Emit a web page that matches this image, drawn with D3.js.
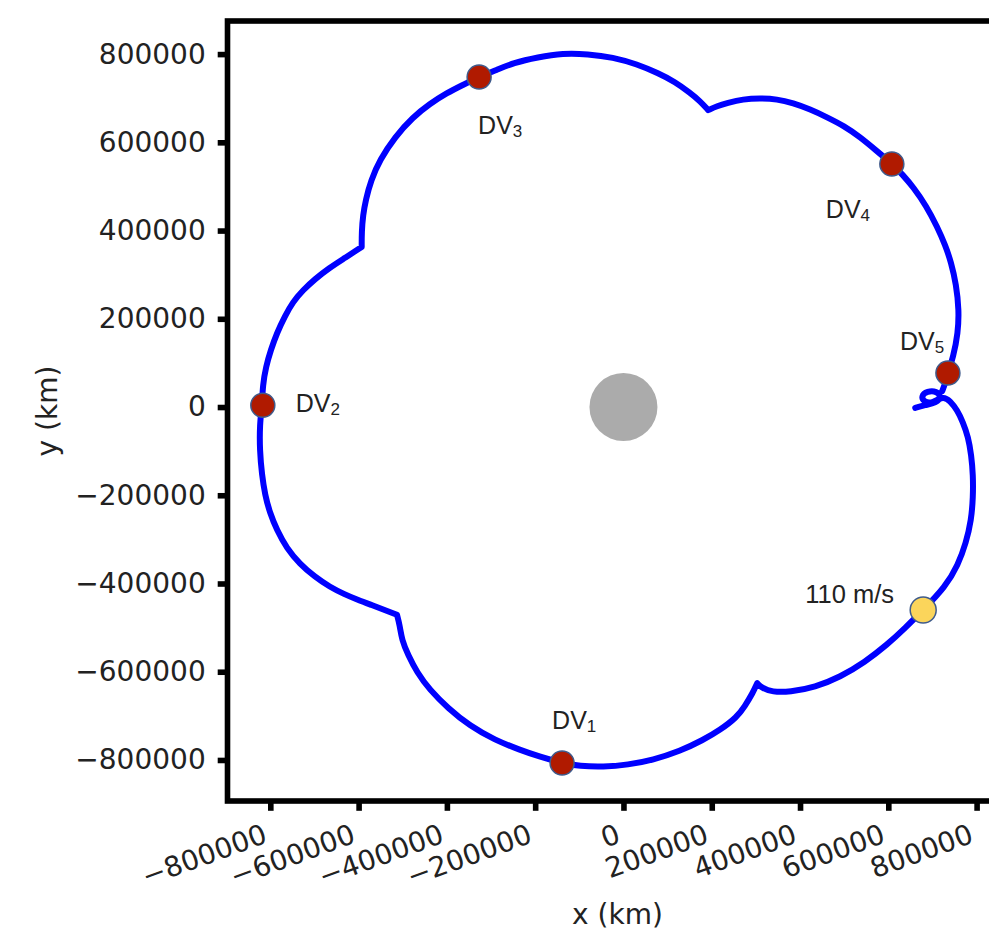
<!DOCTYPE html>
<html>
<head>
<meta charset="utf-8">
<script src="https://cdn.jsdelivr.net/npm/d3@7"></script>
<style>
  html, body { margin: 0; padding: 0; background: #fff; }
  svg { display: block; }
</style>
</head>
<body>
<div id="chart"></div>
<script>
// trajectory in km, [x, y]
const trajectory = [
  [661000, -2000], [683000, 4500], [708000, 9000], [720000, 23000], [710000, 36000],
  [688000, 36000], [674000, 25000], [681000, 11000], [701000, 9000], [724000, 25000],
  [740000, 14000], [756000, -7000], [769000, -34000], [781000, -68000], [788000, -109000],
  [792000, -154000], [792000, -204000], [788000, -256000], [776000, -308000], [758000, -358000],
  [729000, -408000], [679000, -460000], [638000, -501000], [597000, -539000], [547000, -578000],
  [491000, -612000], [434000, -635000], [377000, -646000], [337000, -646000], [314000, -637000],
  [303000, -626000], [293000, -648000], [275000, -678000], [257000, -703000], [219000, -732000],
  [180000, -755000], [128000, -780000], [67000, -800000], [10000, -811000], [-46000, -816000],
  [-99000, -814000], [-139000, -807000], [-189000, -793000], [-235000, -777000], [-291000, -755000],
  [-348000, -723000], [-398000, -682000], [-439000, -641000], [-468000, -601000], [-488000, -562000],
  [-502000, -528000], [-507000, -494000], [-513000, -471000], [-541000, -460000], [-570000, -449000],
  [-602000, -437000], [-633000, -424000], [-665000, -408000], [-699000, -385000], [-733000, -356000],
  [-763000, -320000], [-785000, -279000], [-801000, -240000], [-812000, -199000], [-819000, -154000],
  [-824000, -98000], [-824000, -41000], [-819000, 4000], [-817000, 50000], [-810000, 91000],
  [-799000, 129000], [-785000, 168000], [-767000, 206000], [-749000, 238000], [-726000, 265000],
  [-699000, 290000], [-667000, 315000], [-631000, 338000], [-593000, 363000], [-593000, 397000],
  [-590000, 435000], [-584000, 469000], [-572000, 514000], [-552000, 560000], [-518000, 612000],
  [-477000, 657000], [-439000, 687000], [-400000, 712000], [-364000, 730000], [-328000, 748000],
  [-287000, 764000], [-250000, 780000], [-194000, 793000], [-137000, 802000], [-81000, 800000],
  [-24000, 793000], [31000, 777000], [78000, 757000], [117000, 737000], [151000, 712000],
  [173000, 694000], [192000, 673000], [212000, 682000], [235000, 689000], [271000, 698000],
  [309000, 700000], [348000, 698000], [384000, 689000], [423000, 675000], [461000, 657000],
  [500000, 637000], [536000, 612000], [572000, 582000], [609000, 551000], [633000, 526000],
  [656000, 499000], [686000, 456000], [711000, 408000], [729000, 367000], [742000, 329000],
  [754000, 277000], [760000, 220000], [758000, 168000], [747000, 113000], [735000, 77000],
  [729000, 54000], [722000, 36000]
];
// indices of the kinks (manoeuvre cusps) in the trajectory
const cusps = [30, 52, 78, 101];

// manoeuvres
const dvNames = ['1', '2', '3', '4', '5'];
const dvX = [-139000, -817000, -327000, 608000, 735000];
const dvY = [-807000, 4000, 748000, 551000, 77000];

const burnX = [679000];
const burnY = [-460000];
const burnLabel = ['110 m/s'];

const bodyX = [0];
const bodyY = [0];

const ticks = [-800000, -600000, -400000, -200000, 0, 200000, 400000, 600000, 800000];
const xDomain = [-897000, 870000];
const yDomain = [-893000, 875000];

// layout
const W = 989, H = 933;
const mLeft = 227.5, mTop = 21, size = 780;
const lw = 5.6;

const svg = d3.select('#chart').append('svg')
  .attr('width', W)
  .attr('height', H)
  .style('font-family', "'DejaVu Sans', sans-serif");

const xScale = d3.scaleLinear().domain(xDomain).range([mLeft, mLeft + size]);
const yScale = d3.scaleLinear().domain(yDomain).range([mTop + size, mTop]);

const fmt = d3.format('d');

// y axis
const yAxis = d3.axisLeft(yScale)
  .tickValues(ticks)
  .tickFormat(fmt)
  .tickSize(9.8)
  .tickPadding(12);

const gy = svg.append('g')
  .attr('transform', `translate(${mLeft}, 0)`)
  .call(yAxis);
gy.select('.domain').remove();
gy.selectAll('.tick line').attr('stroke', '#000').attr('stroke-width', lw);
gy.selectAll('.tick text')
  .attr('fill', '#222')
  .attr('font-size', 28)
  .attr('font-family', "'DejaVu Sans', sans-serif");

// x axis
const xAxis = d3.axisBottom(xScale)
  .tickValues(ticks)
  .tickFormat(fmt)
  .tickSize(9.8);

const gx = svg.append('g')
  .attr('transform', `translate(0, ${mTop + size})`)
  .call(xAxis);
gx.select('.domain').remove();
gx.selectAll('.tick line').attr('stroke', '#000').attr('stroke-width', lw);
gx.selectAll('.tick text')
  .attr('fill', '#222')
  .attr('font-size', 28)
  .attr('font-family', "'DejaVu Sans', sans-serif")
  .attr('x', null)
  .attr('y', null)
  .attr('dy', null)
  .attr('text-anchor', 'end')
  .attr('transform', 'translate(-2, 41) rotate(-20)');

// frame
svg.append('rect')
  .attr('x', mLeft)
  .attr('y', mTop)
  .attr('width', size)
  .attr('height', size)
  .attr('fill', 'none')
  .attr('stroke', '#000')
  .attr('stroke-width', lw);

// central body
svg.selectAll('circle.body')
  .data(bodyX)
  .enter()
  .append('circle')
  .attr('class', 'body')
  .attr('cx', d => xScale(d))
  .attr('cy', (d, i) => yScale(bodyY[i]))
  .attr('r', 34)
  .attr('fill', '#ababab');

// trajectory: b-spline, with the cusp points repeated so the kinks stay sharp
const pts = [];
trajectory.forEach((p, i) => {
  pts.push(p);
  if (cusps.includes(i)) { pts.push(p); pts.push(p); }
});

const line = d3.line()
  .x(d => xScale(d[0]))
  .y(d => yScale(d[1]))
  .curve(d3.curveBasis);

svg.append('path')
  .datum(pts)
  .attr('d', line)
  .attr('fill', 'none')
  .attr('stroke', '#0000ff')
  .attr('stroke-width', 6)
  .attr('stroke-linejoin', 'round')
  .attr('stroke-linecap', 'round');

// dv markers
svg.selectAll('circle.dv')
  .data(dvX)
  .enter()
  .append('circle')
  .attr('class', 'dv')
  .attr('cx', d => xScale(d))
  .attr('cy', (d, i) => yScale(dvY[i]))
  .attr('r', 12)
  .attr('fill', '#b01a00')
  .attr('stroke', '#3f5b8c')
  .attr('stroke-width', 1.5);

svg.selectAll('circle.burn')
  .data(burnX)
  .enter()
  .append('circle')
  .attr('class', 'burn')
  .attr('cx', d => xScale(d))
  .attr('cy', (d, i) => yScale(burnY[i]))
  .attr('r', 13)
  .attr('fill', '#fbd55b')
  .attr('stroke', '#3f5b8c')
  .attr('stroke-width', 1.5);

// labels (offsets in px from marker)
const dvOffsets = [[-10, -34], [33, 7], [-1, 57], [-66, 54], [-48, -23]];
const labels = svg.selectAll('text.dv')
  .data(dvNames)
  .enter()
  .append('text')
  .attr('class', 'dv')
  .attr('x', (d, i) => xScale(dvX[i]) + dvOffsets[i][0])
  .attr('y', (d, i) => yScale(dvY[i]) + dvOffsets[i][1])
  .attr('font-family', "'Liberation Sans', Arial, sans-serif")
  .attr('font-size', 25)
  .attr('fill', '#222');
labels.append('tspan').text('DV');
labels.append('tspan')
  .attr('font-size', 17)
  .attr('dy', 3)
  .text(d => d);

svg.selectAll('text.burn')
  .data(burnLabel)
  .enter()
  .append('text')
  .attr('class', 'burn')
  .attr('x', (d, i) => xScale(burnX[i]) - 118)
  .attr('y', (d, i) => yScale(burnY[i]) - 7)
  .attr('font-family', "'Liberation Sans', Arial, sans-serif")
  .attr('font-size', 25.5)
  .attr('fill', '#222')
  .text(d => d);

// axis titles
svg.append('text')
  .attr('x', mLeft + size / 2)
  .attr('y', 924)
  .attr('text-anchor', 'middle')
  .attr('font-size', 28)
  .attr('fill', '#222')
  .text('x (km)');

svg.append('text')
  .attr('transform', `translate(57, ${mTop + size / 2}) rotate(-90)`)
  .attr('text-anchor', 'middle')
  .attr('font-size', 28)
  .attr('fill', '#222')
  .text('y (km)');
</script>
</body>
</html>
